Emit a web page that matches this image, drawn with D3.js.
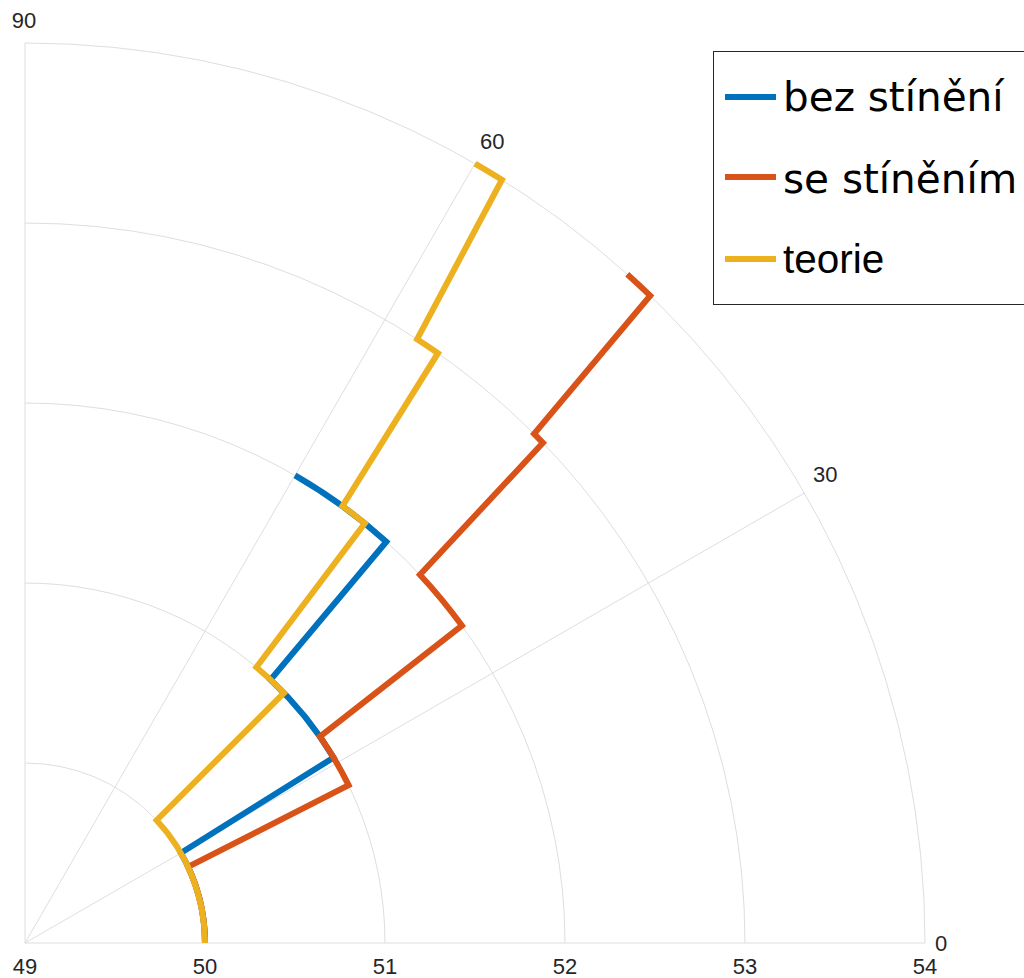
<!DOCTYPE html>
<html>
<head>
<meta charset="utf-8">
<script src="https://cdn.jsdelivr.net/npm/d3@7"></script>
<style>
  html, body { margin: 0; padding: 0; background: #fff; }
  svg { display: block; }
</style>
</head>
<body>
<svg id="chart" width="1024" height="978"></svg>
<script>
// ---- data (theta in degrees, r in radial units) ----
const seriesNames = ["bez stínění", "se stíněním", "teorie"];
const thetaBez = [0, 30, 31, 47, 48, 60];
const rBez     = [50, 50, 51, 51, 52, 52];
const thetaSe  = [0, 25, 26, 35, 36, 43, 44, 45, 46, 48];
const rSe      = [50, 50, 51, 51, 52, 52, 53, 53, 54, 54];
const thetaTeorie = [0, 43, 44, 50, 51, 54, 55, 57, 58, 60];
const rTeorie     = [50, 50, 51, 51, 52, 52, 53, 53, 54, 54];
const rTicks = [49, 50, 51, 52, 53, 54];
const thetaTicks = [0, 30, 60, 90];

// ---- layout ----
const svg = d3.select("#chart");
const cx = 25, cy = 943, R = 900;
const rScale = d3.scaleLinear().domain([49, 54]).range([0, R]);
const aScale = d3.scaleLinear().domain([0, 90]).range([0, Math.PI / 2]);
const colors = ["#0072BD", "#D95319", "#EDB120"];
const gridColor = "#dedede";
const textColor = "#262626";

function pt(thetaDeg, rpx) {
  const a = aScale(thetaDeg);
  return [cx + rpx * Math.cos(a), cy - rpx * Math.sin(a)];
}

const g = svg.append("g");

// radial grid circles (arcs)
rTicks.slice(1).forEach(v => {
  const p = d3.path();
  const rp = rScale(v);
  const s = pt(0, rp);
  p.moveTo(s[0], s[1]);
  p.arc(cx, cy, rp, 0, -Math.PI / 2, true);
  g.append("path").attr("d", p.toString())
    .attr("fill", "none").attr("stroke", gridColor).attr("stroke-width", 1);
});

// theta grid lines
thetaTicks.forEach(t => {
  const e = pt(t, R);
  g.append("line").attr("x1", cx).attr("y1", cy).attr("x2", e[0]).attr("y2", e[1])
    .attr("stroke", gridColor).attr("stroke-width", 1);
});

// radial tick labels
rTicks.forEach(v => {
  g.append("text").attr("x", cx + rScale(v)).attr("y", 974)
    .attr("text-anchor", "middle")
    .attr("font-family", "Liberation Sans, Arial, sans-serif")
    .attr("font-size", 22).attr("fill", textColor).text(v);
});

// theta tick labels
thetaTicks.forEach(t => {
  const p = pt(t, R + 10);
  let anchor = "start", dx = 0, dy = -6;
  if (t === 0) { dy = 8; }
  if (t === 90) { anchor = "middle"; dy = -5; dx = -1; }
  g.append("text").attr("x", p[0] + dx).attr("y", p[1] + dy)
    .attr("text-anchor", anchor)
    .attr("font-family", "Liberation Sans, Arial, sans-serif")
    .attr("font-size", 22).attr("fill", textColor).text(t);
});

// series paths: constant-radius runs are drawn as arcs, others as straight segments
function polarPath(thetas, rs) {
  const p = d3.path();
  const s = pt(thetas[0], rScale(rs[0]));
  p.moveTo(s[0], s[1]);
  for (let i = 1; i < thetas.length; i++) {
    const rp = rScale(rs[i]);
    if (rs[i] === rs[i - 1]) {
      p.arc(cx, cy, rp, -aScale(thetas[i - 1]), -aScale(thetas[i]), thetas[i] > thetas[i - 1]);
    } else {
      const q = pt(thetas[i], rp);
      p.lineTo(q[0], q[1]);
    }
  }
  return p.toString();
}

const series = [[thetaBez, rBez], [thetaSe, rSe], [thetaTeorie, rTeorie]];
series.forEach((s, i) => {
  g.append("path").attr("d", polarPath(s[0], s[1]))
    .attr("fill", "none").attr("stroke", colors[i]).attr("stroke-width", 6)
    .attr("stroke-linejoin", "miter").attr("stroke-linecap", "butt");
});

// legend
const lg = svg.append("g");
lg.append("rect").attr("x", 713.5).attr("y", 51.5).attr("width", 330).attr("height", 253)
  .attr("fill", "#fff").attr("stroke", textColor).attr("stroke-width", 1);
const legY = [97, 177, 259];
const legBase = [111, 193, 273];
const legFonts = ["DejaVu Sans, sans-serif", "DejaVu Sans, sans-serif", "Liberation Sans, Arial, sans-serif"];
seriesNames.forEach((name, i) => {
  lg.append("line").attr("x1", 725).attr("x2", 776).attr("y1", legY[i]).attr("y2", legY[i])
    .attr("stroke", colors[i]).attr("stroke-width", 6);
  lg.append("text").attr("x", 783).attr("y", legBase[i])
    .attr("font-family", legFonts[i]).attr("font-size", 40.5)
    .attr("fill", "#000").text(name);
});
</script>
</body>
</html>
